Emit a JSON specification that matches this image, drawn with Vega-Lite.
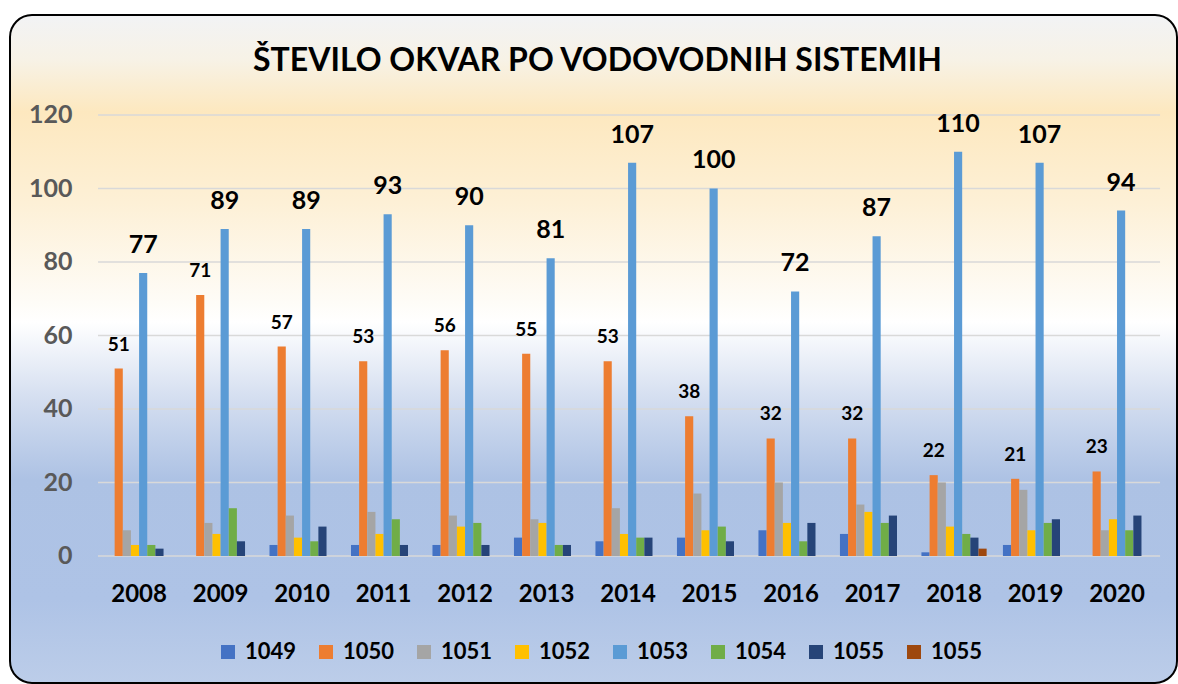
{
  "$schema": "https://vega.github.io/schema/vega-lite/v6.json",
  "autosize": "none",
  "width": 1167,
  "height": 668,
  "padding": {"left": 10, "top": 15, "right": 1, "bottom": 1},
  "background": "white",
  "config": {
    "font": "Lato",
    "view": {
      "stroke": "#000000",
      "strokeWidth": 2,
      "cornerRadius": 22,
      "fill": {
        "gradient": "linear", "x1": 0, "y1": 0, "x2": 0, "y2": 1,
        "stops": [
          {"offset": 0, "color": "#f2f3f5"},
          {"offset": 0.067, "color": "#f7f2e6"},
          {"offset": 0.145, "color": "#fde8bf"},
          {"offset": 0.28, "color": "#fdf0d6"},
          {"offset": 0.43, "color": "#fefcf7"},
          {"offset": 0.46, "color": "#ffffff"},
          {"offset": 0.575, "color": "#d4def0"},
          {"offset": 0.695, "color": "#adc2e4"},
          {"offset": 0.875, "color": "#aec3e6"},
          {"offset": 1, "color": "#bccde9"}
        ]
      }
    }
  },
  "title": {
    "text": "ŠTEVILO OKVAR PO VODOVODNIH SISTEMIH",
    "font": "Lato",
    "fontSize": 32,
    "fontWeight": "bold",
    "color": "#000000",
    "anchor": "middle",
    "frame": "group",
    "baseline": "alphabetic",
    "offset": -88,
    "dx": 4
  },
  "datasets": {
    "grid": [{"g": 0}, {"g": 20}, {"g": 40}, {"g": 60}, {"g": 80}, {"g": 100}, {"g": 120}],
    "faults": [
      {"year": "2008", "series": "1050", "value": 51},
      {"year": "2008", "series": "1051", "value": 7},
      {"year": "2008", "series": "1052", "value": 3},
      {"year": "2008", "series": "1053", "value": 77},
      {"year": "2008", "series": "1054", "value": 3},
      {"year": "2008", "series": "1055", "value": 2},
      {"year": "2009", "series": "1050", "value": 71},
      {"year": "2009", "series": "1051", "value": 9},
      {"year": "2009", "series": "1052", "value": 6},
      {"year": "2009", "series": "1053", "value": 89},
      {"year": "2009", "series": "1054", "value": 13},
      {"year": "2009", "series": "1055", "value": 4},
      {"year": "2010", "series": "1049", "value": 3},
      {"year": "2010", "series": "1050", "value": 57},
      {"year": "2010", "series": "1051", "value": 11},
      {"year": "2010", "series": "1052", "value": 5},
      {"year": "2010", "series": "1053", "value": 89},
      {"year": "2010", "series": "1054", "value": 4},
      {"year": "2010", "series": "1055", "value": 8},
      {"year": "2011", "series": "1049", "value": 3},
      {"year": "2011", "series": "1050", "value": 53},
      {"year": "2011", "series": "1051", "value": 12},
      {"year": "2011", "series": "1052", "value": 6},
      {"year": "2011", "series": "1053", "value": 93},
      {"year": "2011", "series": "1054", "value": 10},
      {"year": "2011", "series": "1055", "value": 3},
      {"year": "2012", "series": "1049", "value": 3},
      {"year": "2012", "series": "1050", "value": 56},
      {"year": "2012", "series": "1051", "value": 11},
      {"year": "2012", "series": "1052", "value": 8},
      {"year": "2012", "series": "1053", "value": 90},
      {"year": "2012", "series": "1054", "value": 9},
      {"year": "2012", "series": "1055", "value": 3},
      {"year": "2013", "series": "1049", "value": 5},
      {"year": "2013", "series": "1050", "value": 55},
      {"year": "2013", "series": "1051", "value": 10},
      {"year": "2013", "series": "1052", "value": 9},
      {"year": "2013", "series": "1053", "value": 81},
      {"year": "2013", "series": "1054", "value": 3},
      {"year": "2013", "series": "1055", "value": 3},
      {"year": "2014", "series": "1049", "value": 4},
      {"year": "2014", "series": "1050", "value": 53},
      {"year": "2014", "series": "1051", "value": 13},
      {"year": "2014", "series": "1052", "value": 6},
      {"year": "2014", "series": "1053", "value": 107},
      {"year": "2014", "series": "1054", "value": 5},
      {"year": "2014", "series": "1055", "value": 5},
      {"year": "2015", "series": "1049", "value": 5},
      {"year": "2015", "series": "1050", "value": 38},
      {"year": "2015", "series": "1051", "value": 17},
      {"year": "2015", "series": "1052", "value": 7},
      {"year": "2015", "series": "1053", "value": 100},
      {"year": "2015", "series": "1054", "value": 8},
      {"year": "2015", "series": "1055", "value": 4},
      {"year": "2016", "series": "1049", "value": 7},
      {"year": "2016", "series": "1050", "value": 32},
      {"year": "2016", "series": "1051", "value": 20},
      {"year": "2016", "series": "1052", "value": 9},
      {"year": "2016", "series": "1053", "value": 72},
      {"year": "2016", "series": "1054", "value": 4},
      {"year": "2016", "series": "1055", "value": 9},
      {"year": "2017", "series": "1049", "value": 6},
      {"year": "2017", "series": "1050", "value": 32},
      {"year": "2017", "series": "1051", "value": 14},
      {"year": "2017", "series": "1052", "value": 12},
      {"year": "2017", "series": "1053", "value": 87},
      {"year": "2017", "series": "1054", "value": 9},
      {"year": "2017", "series": "1055", "value": 11},
      {"year": "2018", "series": "1049", "value": 1},
      {"year": "2018", "series": "1050", "value": 22},
      {"year": "2018", "series": "1051", "value": 20},
      {"year": "2018", "series": "1052", "value": 8},
      {"year": "2018", "series": "1053", "value": 110},
      {"year": "2018", "series": "1054", "value": 6},
      {"year": "2018", "series": "1055", "value": 5},
      {"year": "2018", "series": "1055b", "value": 2},
      {"year": "2019", "series": "1049", "value": 3},
      {"year": "2019", "series": "1050", "value": 21},
      {"year": "2019", "series": "1051", "value": 18},
      {"year": "2019", "series": "1052", "value": 7},
      {"year": "2019", "series": "1053", "value": 107},
      {"year": "2019", "series": "1054", "value": 9},
      {"year": "2019", "series": "1055", "value": 10},
      {"year": "2020", "series": "1050", "value": 23},
      {"year": "2020", "series": "1051", "value": 7},
      {"year": "2020", "series": "1052", "value": 10},
      {"year": "2020", "series": "1053", "value": 94},
      {"year": "2020", "series": "1054", "value": 7},
      {"year": "2020", "series": "1055", "value": 11}
    ]
  },
  "layer": [
    {
      "data": {"name": "grid"},
      "mark": {"type": "rule", "color": "#d9d9d9", "strokeWidth": 1.5},
      "encoding": {
        "y": {"field": "g", "type": "quantitative"},
        "x": {"datum": "2008", "bandPosition": -0.13},
        "x2": {"datum": "2020", "bandPosition": 1.16}
      }
    },
    {
      "data": {"name": "faults"},
      "mark": {"type": "bar"},
      "encoding": {
        "x": {
          "field": "year", "type": "nominal", "title": null,
          "scale": {"paddingInner": 0.2, "paddingOuter": 0.76, "align": 0.779},
          "axis": {
            "orient": "bottom", "offset": -127, "domain": false, "ticks": false,
            "bandPosition": 0.5, "labelAlign": "center",
            "labelAngle": 0, "labelPadding": 38, "labelFont": "Lato",
            "labelFontSize": 24, "labelFontWeight": "bold", "labelColor": "#000000"
          }
        },
        "xOffset": {
          "field": "series", "type": "nominal",
          "scale": {"domain": ["1049", "1050", "1051", "1052", "1053", "1054", "1055", "1055b"], "paddingInner": 0, "paddingOuter": 0}
        },
        "y": {
          "field": "value", "type": "quantitative", "title": null,
          "scale": {"domain": [-34.56, 147.21], "nice": false, "zero": false},
          "axis": {
            "orient": "left", "offset": -88, "domain": false, "ticks": false, "grid": false,
            "values": [0, 20, 40, 60, 80, 100, 120], "labelPadding": 26,
            "labelFont": "Lato", "labelFontSize": 25, "labelFontWeight": "bold", "labelColor": "#595959"
          }
        },
        "y2": {"datum": 0},
        "color": {
          "field": "series", "type": "nominal",
          "scale": {
            "domain": ["1049", "1050", "1051", "1052", "1053", "1054", "1055", "1055b"],
            "range": ["#4472C4", "#ED7D31", "#A5A5A5", "#FFC000", "#5B9BD5", "#70AD47", "#264478", "#9E480E"]
          },
          "legend": {
            "title": null, "orient": "none", "direction": "horizontal",
            "legendX": 207, "legendY": 626, "padding": 0,
            "symbolType": "square", "symbolSize": 196, "symbolStrokeWidth": 0,
            "labelOffset": 6, "columnPadding": 18,
            "labelFont": "Lato", "labelFontSize": 22, "labelFontWeight": "bold", "labelColor": "#000000",
            "labelExpr": "datum.label == '1055b' ? '1055' : datum.label"
          }
        }
      }
    },
    {
      "data": {"name": "faults"},
      "transform": [{"filter": "datum.series == '1050'"}],
      "mark": {"type": "text", "font": "Lato", "fontSize": 19, "fontWeight": "bold", "color": "#000000", "baseline": "alphabetic", "dy": -18},
      "encoding": {
        "x": {"field": "year", "type": "nominal"},
        "xOffset": {"field": "series", "type": "nominal"},
        "y": {"field": "value", "type": "quantitative"},
        "text": {"field": "value", "type": "quantitative"}
      }
    },
    {
      "data": {"name": "faults"},
      "transform": [{"filter": "datum.series == '1053'"}],
      "mark": {"type": "text", "font": "Lato", "fontSize": 25, "fontWeight": "bold", "color": "#000000", "baseline": "alphabetic", "dy": -20},
      "encoding": {
        "x": {"field": "year", "type": "nominal"},
        "xOffset": {"field": "series", "type": "nominal"},
        "y": {"field": "value", "type": "quantitative"},
        "text": {"field": "value", "type": "quantitative"}
      }
    }
  ]
}
